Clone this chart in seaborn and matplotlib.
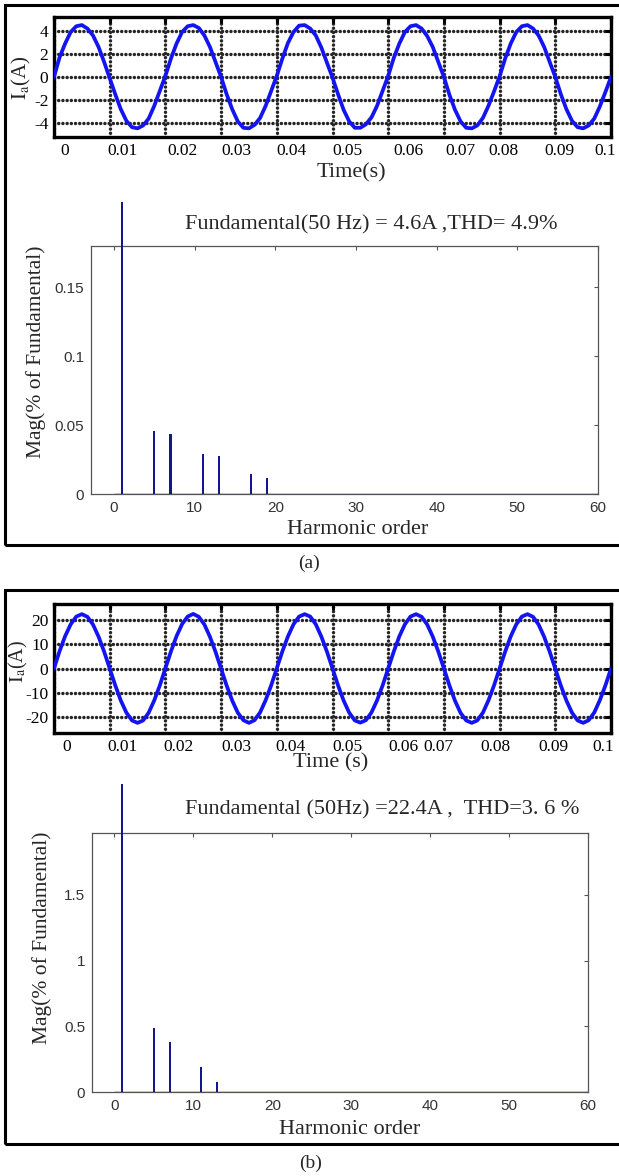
import numpy as np
import matplotlib
matplotlib.use("Agg")
import matplotlib.pyplot as plt
import seaborn as sns
from matplotlib.patches import Rectangle
from matplotlib.ticker import FormatStrFormatter
from matplotlib.transforms import ScaledTranslation

# ---------------- data ----------------
# sampling instants of the current traces (s)
t = np.linspace(0, 0.1, 101)

# (a) phase current, A
ia_a = [0.0, 1.7, 2.9, 3.9, 4.4, 4.5, 4.2, 3.6, 2.6, 1.3,
        -0.1, -1.5, -2.8, -3.8, -4.35, -4.45, -4.2, -3.6, -2.5, -1.2,
        0.1, 1.6, 2.9, 3.9, 4.4, 4.5, 4.25, 3.6, 2.6, 1.3,
        0.0, -1.5, -2.8, -3.85, -4.4, -4.45, -4.15, -3.55, -2.5, -1.2,
        0.1, 1.6, 2.95, 3.9, 4.45, 4.5, 4.2, 3.6, 2.55, 1.25,
        -0.05, -1.5, -2.85, -3.85, -4.4, -4.4, -4.1, -3.5, -2.5, -1.2,
        0.1, 1.65, 2.9, 3.9, 4.4, 4.5, 4.2, 3.55, 2.6, 1.3,
        0.0, -1.55, -2.85, -3.85, -4.4, -4.45, -4.2, -3.55, -2.5, -1.25,
        0.05, 1.6, 2.9, 3.9, 4.4, 4.5, 4.2, 3.6, 2.6, 1.3,
        0.0, -1.5, -2.8, -3.8, -4.35, -4.45, -4.2, -3.6, -2.55, -1.3,
        0.0]

# (b) phase current, A
ia_b = [0.0, 7.2, 13.4, 18.3, 21.5, 22.5, 21.4, 18.2, 13.2, 7.0,
        0.0, -7.0, -13.3, -18.3, -21.5, -22.5, -21.5, -18.3, -13.2, -7.0,
        0.1, 7.1, 13.4, 18.4, 21.5, 22.6, 21.4, 18.2, 13.1, 6.9,
        -0.1, -7.1, -13.3, -18.3, -21.4, -22.5, -21.4, -18.2, -13.1, -6.9,
        0.1, 7.1, 13.3, 18.3, 21.5, 22.5, 21.5, 18.3, 13.2, 7.0,
        0.0, -7.0, -13.3, -18.3, -21.5, -22.4, -21.4, -18.2, -13.2, -7.0,
        0.0, 7.0, 13.3, 18.3, 21.5, 22.5, 21.4, 18.2, 13.2, 7.0,
        0.0, -7.1, -13.4, -18.4, -21.5, -22.5, -21.5, -18.3, -13.2, -7.0,
        0.0, 7.0, 13.3, 18.3, 21.5, 22.5, 21.4, 18.2, 13.1, 6.9,
        -0.1, -7.1, -13.3, -18.3, -21.5, -22.5, -21.4, -18.2, -13.1, -7.0,
        0.0]

# harmonic spectra, magnitude in % of fundamental
max_order = 60
orders_a = [1, 5, 7, 11, 13, 17, 19]
mag_a = [0.212, 0.046, 0.0435, 0.029, 0.0275, 0.0143, 0.0118]
orders_b = [1, 5, 7, 11, 13]
mag_b = [2.34, 0.49, 0.38, 0.188, 0.078]

title_a = "Fundamental(50 Hz) = 4.6A ,THD= 4.9%"
title_b = "Fundamental (50Hz) =22.4A ,  THD=3. 6 %"

# ---------------- style ----------------
sns.set_style("white")
plt.rcParams["font.family"] = ["Liberation Serif", "DejaVu Serif"]
plt.rcParams["mathtext.fontset"] = "stix"
plt.rcParams["axes.unicode_minus"] = False

W, H = 619, 1176
fig = plt.figure(figsize=(W / 100, H / 100), dpi=100)


def rect(l, t_, r, b):
    return [l / W, 1 - b / H, (r - l) / W, (b - t_) / H]


def ftext(x, y, s, **kw):
    fig.text(x / W, 1 - y / H, s, ha="center", va="center", **kw)


blue = "#1414f0"
navy = "#15158c"
sans = ["Liberation Sans", "DejaVu Sans"]


def wave_axes(box, y, ylim, yticks, label_shift):
    ax = fig.add_axes(rect(*box))
    sns.lineplot(x=t, y=y, ax=ax, color=blue, linewidth=2.7, zorder=5)
    ax.set_xlim(0, 0.1)
    ax.set_ylim(*ylim)
    ax.set_xticks(np.arange(0, 0.1001, 0.01))
    ax.set_yticks(yticks)
    ax.xaxis.set_major_formatter(FormatStrFormatter("%g"))
    ax.yaxis.set_major_formatter(FormatStrFormatter("%g"))
    ax.grid(True, color="#262626", linestyle=(0, (0.01, 1.2)), linewidth=2.5,
            dash_capstyle="round")
    ax.tick_params(direction="in", length=4, width=2.2, top=True, right=True,
                   labelsize=12.5, pad=4, colors="black")
    for s in ax.spines.values():
        s.set_linewidth(2.4)
        s.set_color("black")
    ax.set_xlabel("")
    ax.set_ylabel("")
    for lab, dx in zip(ax.get_xticklabels(), label_shift):
        lab.set_transform(lab.get_transform() + ScaledTranslation(dx / 100, 0, fig.dpi_scale_trans))
    return ax


def spectrum_axes(box, orders, mags, ylim, yticks):
    ax = fig.add_axes(rect(*box))
    sns.barplot(x=orders, y=mags, native_scale=True, color=navy, saturation=1,
                width=0.14, ax=ax, zorder=3)
    for p in ax.patches:
        p.set_clip_on(False)
        p.set_linewidth(0)
    ax.hlines(0, 0, max_order, color=navy, linewidth=1.0, zorder=4)
    ax.set_xlim(-2.85, max_order)
    ax.set_ylim(*ylim)
    ax.set_xticks(np.arange(0, max_order + 1, 10))
    ax.set_yticks(yticks)
    ax.yaxis.set_major_formatter(FormatStrFormatter("%g"))
    ax.tick_params(direction="in", length=3, width=0.8, top=True, right=True,
                   labelsize=11, pad=5, color="#555555", labelcolor="#333333")
    for lab in ax.get_xticklabels() + ax.get_yticklabels():
        lab.set_fontfamily(sans)
    for s in ax.spines.values():
        s.set_linewidth(0.9)
        s.set_color("#555555")
    ax.set_xlabel("")
    ax.set_ylabel("")
    return ax


# ---------------- panel (a) ----------------
wave_axes((54, 17, 611, 137), ia_a, (-5.2, 5.2), [-4, -2, 0, 2, 4],
          [11, 13, 17, 15, 15, 15, 20, 17, 4, 4, -6])
ftext(21, 78, r"$\mathrm{I_a}$(A)", rotation=90, fontsize=15)
ftext(351, 173, "Time(s)", fontsize=16)

spectrum_axes((91, 246, 598, 494), orders_a, mag_a, (0, 0.18), [0, 0.05, 0.1, 0.15])
ftext(371, 225, title_a, fontsize=16)
ftext(36, 352, "Mag(% of Fundamental)", rotation=90, fontsize=15.5)
ftext(358, 530, "Harmonic order", fontsize=16)

fig.add_artist(Rectangle(rect(5, 5, 640, 545)[:2], (640 - 5) / W, 540 / H,
                         transform=fig.transFigure, fill=False, lw=2.2, ec="black"))
ftext(309, 563, "(a)", fontsize=14)

# ---------------- panel (b) ----------------
wave_axes((54, 604, 611, 733), ia_b, (-26.7, 26.7), [-20, -10, 0, 10, 20],
          [13, 13, 13, 15, 14, 15, 15, -5, -4, -2, -8])
ftext(18, 661, r"$\mathrm{I_a}$(A)", rotation=90, fontsize=14.5)
ftext(331, 763, "Time (s)", fontsize=16)

spectrum_axes((92, 833, 588, 1092), orders_b, mag_b, (0, 1.97), [0, 0.5, 1, 1.5])
ftext(382, 810, title_b, fontsize=16)
ftext(42, 938, "Mag(% of Fundamental)", rotation=90, fontsize=15.5)
ftext(350, 1130, "Harmonic order", fontsize=16)

fig.add_artist(Rectangle(rect(5, 590, 640, 1144)[:2], (640 - 5) / W, 554 / H,
                         transform=fig.transFigure, fill=False, lw=2.2, ec="black"))
ftext(311, 1163, "(b)", fontsize=14)

fig.savefig("out.png", dpi=100)
